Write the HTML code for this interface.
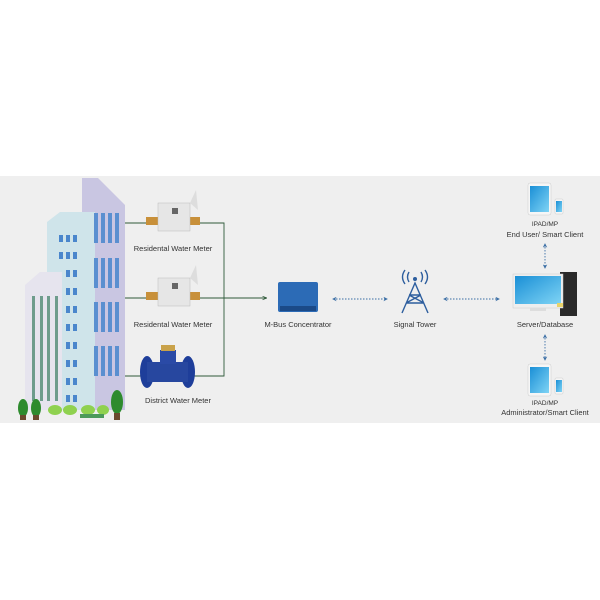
<!DOCTYPE html>
<html><head><meta charset="utf-8"><style>
html,body{margin:0;padding:0;background:#fff;}
svg{display:block;font-family:"Liberation Sans",sans-serif;}
text{fill:#333;font-size:7.5px;text-anchor:middle;}
</style></head><body>
<svg width="600" height="600" viewBox="0 0 600 600">
<defs>
<marker id="ah" viewBox="0 0 10 10" refX="8" refY="5" markerWidth="5" markerHeight="5" orient="auto-start-reverse"><path d="M0,0L10,5L0,10L3,5z" fill="#3a6ea5"/></marker>
<marker id="ag" viewBox="0 0 10 10" refX="8" refY="5" markerWidth="5" markerHeight="5" orient="auto"><path d="M0,1L10,5L0,9" fill="none" stroke="#2f5a3a" stroke-width="1.5"/></marker>
<linearGradient id="scr" x1="0" y1="0" x2="1" y2="1"><stop offset="0" stop-color="#1a8fd6"/><stop offset="1" stop-color="#7fd4f5"/></linearGradient>
</defs>
<rect x="0" y="176" width="600" height="247" fill="#efefef"/>
<!-- buildings -->
<path d="M82,178 L98,178 L125,205 L125,410 L82,410Z" fill="#c9c6e2"/>
<path d="M47,222 L60,212 L95,212 L95,410 L47,410Z" fill="#cfe4ea"/>
<path d="M25,285 L40,272 L62,272 L62,410 L25,410Z" fill="#e6e4ee"/>
<g fill="#5a8fd0">
<rect x="94" y="213" width="4" height="30"/><rect x="101" y="213" width="4" height="30"/><rect x="108" y="213" width="4" height="30"/><rect x="115" y="213" width="4" height="30"/>
<rect x="94" y="258" width="4" height="30"/><rect x="101" y="258" width="4" height="30"/><rect x="108" y="258" width="4" height="30"/><rect x="115" y="258" width="4" height="30"/>
<rect x="94" y="302" width="4" height="30"/><rect x="101" y="302" width="4" height="30"/><rect x="108" y="302" width="4" height="30"/><rect x="115" y="302" width="4" height="30"/>
<rect x="94" y="346" width="4" height="30"/><rect x="101" y="346" width="4" height="30"/><rect x="108" y="346" width="4" height="30"/><rect x="115" y="346" width="4" height="30"/>
</g>
<g fill="#4a86cc">
<rect x="59" y="235" width="4" height="7"/><rect x="66" y="235" width="4" height="7"/><rect x="73" y="235" width="4" height="7"/>
<rect x="59" y="252" width="4" height="7"/><rect x="66" y="252" width="4" height="7"/><rect x="73" y="252" width="4" height="7"/>
<rect x="66" y="270" width="4" height="7"/><rect x="73" y="270" width="4" height="7"/>
<rect x="66" y="288" width="4" height="7"/><rect x="73" y="288" width="4" height="7"/>
<rect x="66" y="306" width="4" height="7"/><rect x="73" y="306" width="4" height="7"/>
<rect x="66" y="324" width="4" height="7"/><rect x="73" y="324" width="4" height="7"/>
<rect x="66" y="342" width="4" height="7"/><rect x="73" y="342" width="4" height="7"/>
<rect x="66" y="360" width="4" height="7"/><rect x="73" y="360" width="4" height="7"/>
<rect x="66" y="378" width="4" height="7"/><rect x="73" y="378" width="4" height="7"/>
<rect x="66" y="395" width="4" height="7"/><rect x="73" y="395" width="4" height="7"/>
</g>
<g fill="#6e9c8c"><rect x="32" y="296" width="3" height="105"/><rect x="40" y="296" width="3" height="105"/><rect x="47" y="296" width="3" height="105"/><rect x="55" y="296" width="3" height="105"/></g>
<!-- trees -->
<g fill="#2e8b2e"><ellipse cx="23" cy="408" rx="5" ry="9"/><ellipse cx="36" cy="408" rx="5" ry="9"/><ellipse cx="117" cy="402" rx="6" ry="12"/></g>
<g fill="#8fd14f"><ellipse cx="55" cy="410" rx="7" ry="5"/><ellipse cx="70" cy="410" rx="7" ry="5"/><ellipse cx="88" cy="410" rx="7" ry="5"/><ellipse cx="103" cy="410" rx="6" ry="5"/></g>
<rect x="80" y="414" width="24" height="4" fill="#4c9a5a"/>
<g fill="#6b4a2e"><rect x="20" y="415" width="6" height="5"/><rect x="33" y="415" width="6" height="5"/><rect x="114" y="413" width="6" height="7"/></g>
<!-- lines -->
<g stroke="#2f5a3a" stroke-width="0.9" fill="none">
<path d="M125,223 H224 V376 H125"/>
<path d="M125,298 H266" marker-end="url(#ag)"/>
</g>
<!-- meters -->
<g>
<rect x="146" y="217" width="12" height="8" fill="#c8903a"/><rect x="188" y="217" width="12" height="8" fill="#c8903a"/>
<rect x="158" y="203" width="32" height="28" fill="#e6e6e6" stroke="#bbb" stroke-width="0.5"/>
<path d="M190,203 L196,190 L198,210 Z" fill="#ddd"/>
<rect x="172" y="208" width="6" height="6" fill="#666"/>
<text x="173" y="251">Residental Water Meter</text>
<rect x="146" y="292" width="12" height="8" fill="#c8903a"/><rect x="188" y="292" width="12" height="8" fill="#c8903a"/>
<rect x="158" y="278" width="32" height="28" fill="#e6e6e6" stroke="#bbb" stroke-width="0.5"/>
<path d="M190,278 L196,265 L198,285 Z" fill="#ddd"/>
<rect x="172" y="283" width="6" height="6" fill="#666"/>
<text x="173" y="327">Residental Water Meter</text>
<ellipse cx="147" cy="372" rx="7" ry="16" fill="#1e3e9a"/><ellipse cx="188" cy="372" rx="7" ry="16" fill="#1e3e9a"/>
<rect x="147" y="362" width="41" height="20" fill="#27479f"/>
<rect x="160" y="350" width="16" height="14" fill="#2a4aa6"/>
<rect x="161" y="345" width="14" height="6" fill="#c9a24a"/>
<text x="178" y="403">District Water Meter</text>
</g>
<!-- concentrator -->
<rect x="278" y="282" width="40" height="30" rx="2" fill="#2c6bb6"/>
<rect x="280" y="306" width="36" height="5" fill="#1b4a88"/>
<text x="298" y="327">M-Bus Concentrator</text>
<g stroke="#3a6ea5" stroke-width="0.9" stroke-dasharray="1.5,1.5" fill="none">
<path d="M333,299 H387" marker-start="url(#ah)" marker-end="url(#ah)"/>
<path d="M444,299 H499" marker-start="url(#ah)" marker-end="url(#ah)"/>
<path d="M545,244 V268" marker-start="url(#ah)" marker-end="url(#ah)"/>
<path d="M545,335 V360" marker-start="url(#ah)" marker-end="url(#ah)"/>
</g>
<!-- tower -->
<g stroke="#2d5e9e" stroke-width="1.4" fill="none">
<path d="M402,313 L415,283 L428,313 M406,303 H424 M409,295 H421 M406,303 L421,295 M424,303 L409,295"/>
<path d="M409,282 Q406,277 409,272 M421,282 Q424,277 421,272 M405,284 Q400,277 405,270 M425,284 Q430,277 425,270"/>
</g>
<circle cx="415" cy="279" r="2" fill="#2d5e9e"/>
<text x="415" y="327">Signal Tower</text>
<!-- server -->
<rect x="560" y="272" width="17" height="44" fill="#2a2a2a"/>
<rect x="513" y="274" width="50" height="34" fill="#eee" stroke="#ccc" stroke-width="0.5"/>
<rect x="515" y="276" width="46" height="28" fill="url(#scr)"/>
<rect x="530" y="308" width="16" height="3" fill="#ddd"/>
<rect x="557" y="303" width="6" height="4" fill="#e9d36a"/>
<text x="545" y="327">Server/Database</text>
<!-- tablets -->
<g>
<rect x="528" y="183" width="23" height="32" rx="2" fill="#f6f6f6" stroke="#ccc" stroke-width="0.5"/>
<rect x="530" y="186" width="19" height="26" fill="url(#scr)"/>
<rect x="555" y="199" width="8" height="15" rx="1" fill="#f6f6f6" stroke="#ccc" stroke-width="0.5"/>
<rect x="556" y="201" width="6" height="11" fill="url(#scr)"/>
<text x="545" y="226" style="font-size:6.5px">IPAD/MP</text>
<text x="545" y="237">End User/ Smart Client</text>
<rect x="528" y="364" width="23" height="32" rx="2" fill="#f6f6f6" stroke="#ccc" stroke-width="0.5"/>
<rect x="530" y="367" width="19" height="26" fill="url(#scr)"/>
<rect x="555" y="378" width="8" height="16" rx="1" fill="#f6f6f6" stroke="#ccc" stroke-width="0.5"/>
<rect x="556" y="380" width="6" height="12" fill="url(#scr)"/>
<text x="545" y="405" style="font-size:6.5px">IPAD/MP</text>
<text x="545" y="415">Administrator/Smart Client</text>
</g>
</svg>
</body></html>
